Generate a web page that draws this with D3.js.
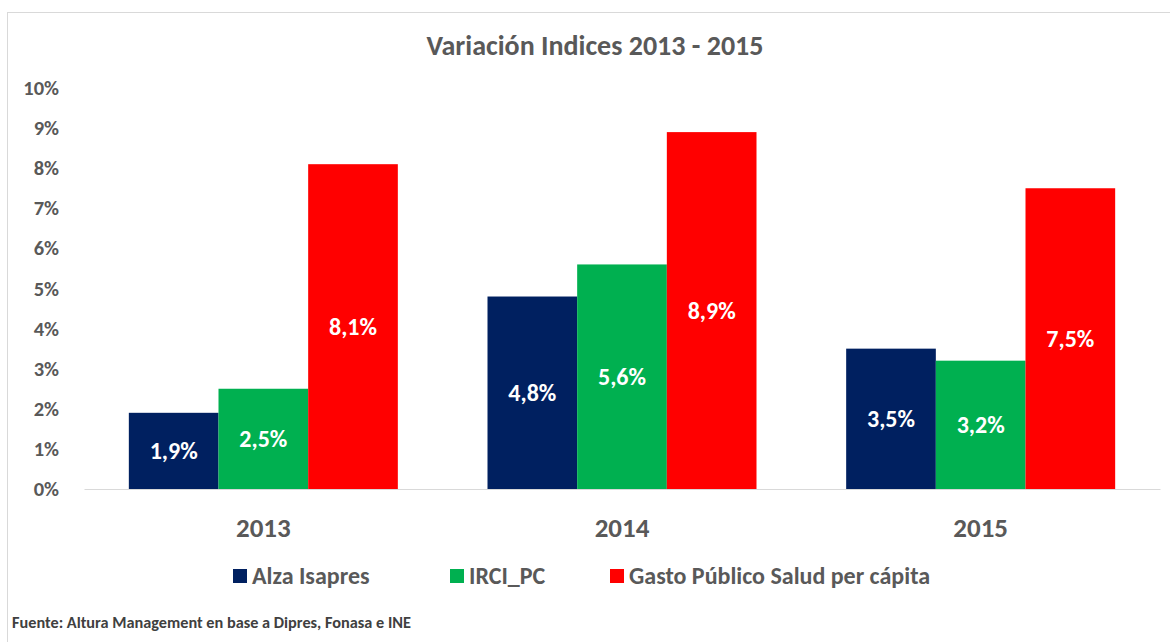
<!DOCTYPE html>
<html>
<head>
<meta charset="utf-8">
<script src="https://cdn.jsdelivr.net/npm/d3@7"></script>
<style>
  body { margin: 0; background: #fff; }
  svg text { font-family: Carlito, Calibri, Lato, sans-serif; }
</style>
</head>
<body>
<div id="chart"></div>
<script>
// data
const years = ["2013", "2014", "2015"];
const seriesNames = ["Alza Isapres", "IRCI_PC", "Gasto Público Salud per cápita"];
const alzaIsapres = [1.9, 4.8, 3.5];
const irciPc = [2.5, 5.6, 3.2];
const gastoPublico = [8.1, 8.9, 7.5];
const yTicks = [0, 1, 2, 3, 4, 5, 6, 7, 8, 9, 10];
const colors = ["#002060", "#00B050", "#FF0000"];

const seriesValues = [alzaIsapres, irciPc, gastoPublico];
const rows = years.map((yr, i) => ({year: yr, values: seriesValues.map(s => s[i])}));

const width = 1170;
const height = 642;
const margin = {top: 88, right: 10, bottom: 153, left: 84};

const svg = d3.select("#chart").append("svg")
    .attr("width", width)
    .attr("height", height);

// outer frame
svg.append("rect")
    .attr("x", 7.5).attr("y", 12.5)
    .attr("width", width + 10).attr("height", height + 10)
    .attr("fill", "none")
    .attr("stroke", "#d9d9d9");

const x0 = d3.scaleBand()
    .domain(years)
    .range([margin.left, width - margin.right])
    .paddingInner(0.25)
    .paddingOuter(0.125);

const x1 = d3.scaleBand()
    .domain(d3.range(seriesNames.length))
    .range([0, x0.bandwidth()]);

const y = d3.scaleLinear()
    .domain([0, 10])
    .range([height - margin.bottom, margin.top]);

// title
svg.append("text")
    .attr("x", 595).attr("y", 55)
    .attr("text-anchor", "middle")
    .attr("fill", "#595959")
    .style("font-size", "28px")
    .style("font-weight", 600)
    .text("Variación Indices 2013 - 2015");

// y axis labels
svg.append("g")
    .attr("transform", `translate(${margin.left - 22},0)`)
    .call(d3.axisLeft(y).tickValues(yTicks).tickSize(0).tickFormat(d => d + "%"))
    .call(g => g.select(".domain").remove())
    .call(g => g.selectAll("text")
        .attr("fill", "#595959")
        .style("font-size", "20.5px")
        .style("font-weight", "bold"));

// bars
const groups = svg.append("g").selectAll("g")
  .data(rows)
  .enter().append("g")
    .attr("transform", d => `translate(${x0(d.year)},0)`);

groups.selectAll("rect")
  .data(d => d.values)
  .enter().append("rect")
    .attr("x", (d, i) => x1(i))
    .attr("y", d => y(d))
    .attr("width", x1.bandwidth())
    .attr("height", d => y(0) - y(d))
    .attr("fill", (d, i) => colors[i]);

groups.selectAll("text")
  .data(d => d.values)
  .enter().append("text")
    .attr("x", (d, i) => x1(i) + x1.bandwidth() / 2)
    .attr("y", d => (y(d) + y(0)) / 2)
    .attr("dy", "0.35em")
    .attr("text-anchor", "middle")
    .attr("fill", "#fff")
    .style("font-size", "24px")
    .style("font-weight", "bold")
    .text(d => d.toFixed(1).replace(".", ",") + "%");

// baseline + x axis
svg.append("g")
    .attr("transform", `translate(0,${y(0)})`)
    .call(d3.axisBottom(x0).tickSize(0).tickPadding(29))
    .call(g => g.select(".domain").attr("stroke", "#d9d9d9"))
    .call(g => g.selectAll("text")
        .attr("fill", "#595959")
        .style("font-size", "27px")
        .style("font-weight", "bold"));

// legend
const legendX = [233, 450, 610];
const legend = svg.append("g").selectAll("g")
  .data(seriesNames)
  .enter().append("g")
    .attr("transform", (d, i) => `translate(${legendX[i]},576)`);

legend.append("rect")
    .attr("x", 0).attr("y", -7)
    .attr("width", 14).attr("height", 14)
    .attr("fill", (d, i) => colors[i]);

legend.append("text")
    .attr("x", 19)
    .attr("dy", "0.35em")
    .attr("fill", "#595959")
    .style("font-size", "24px")
    .style("font-weight", 600)
    .text(d => d);

// source
svg.append("text")
    .attr("x", 12).attr("y", 628)
    .attr("fill", "#404040")
    .style("font-size", "16.3px")
    .style("font-weight", 600)
    .text("Fuente: Altura Management en base a Dipres, Fonasa e INE");
</script>
</body>
</html>
